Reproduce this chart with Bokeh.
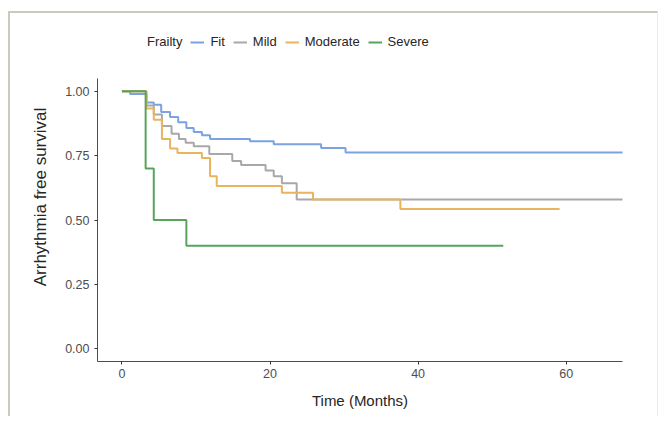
from bokeh.plotting import figure
from bokeh.models import Range1d, FixedTicker, NumeralTickFormatter, Legend, LegendItem
from bokeh.embed import file_html
from bokeh.resources import INLINE

# Kaplan-Meier step data (months, survival)
fit_t = [0, 1.1, 3.3, 4.3, 5.3, 6.5, 7.6, 8.7, 9.7, 10.8, 11.9, 17.3, 20.5, 26.9, 30.2, 67.7]
fit_s = [1.0, 0.99, 0.957, 0.948, 0.92, 0.90, 0.88, 0.858, 0.842, 0.829, 0.815, 0.806, 0.794, 0.78, 0.762, 0.762]

mild_t = [0, 3.3, 4.3, 5.4, 6.7, 7.7, 8.6, 9.7, 11.8, 14.9, 16.1, 19.4, 20.5, 21.6, 23.6, 67.7]
mild_s = [1.0, 0.945, 0.91, 0.865, 0.835, 0.815, 0.80, 0.787, 0.757, 0.729, 0.714, 0.692, 0.67, 0.643, 0.58, 0.58]

mod_t = [0, 3.3, 4.3, 5.4, 6.5, 7.5, 10.8, 11.9, 12.8, 21.6, 25.8, 37.6, 59.1]
mod_s = [1.0, 0.933, 0.89, 0.815, 0.778, 0.76, 0.741, 0.67, 0.632, 0.606, 0.58, 0.543, 0.543]

sev_t = [0, 3.2, 4.3, 8.7, 51.5]
sev_s = [1.0, 0.70, 0.50, 0.40, 0.40]

groups = ["Fit", "Mild", "Moderate", "Severe"]
legend_title = "Frailty"
colors = ["#7aa3df", "#a8a8a8", "#e8b45e", "#57a55b"]
x_ticks = [0, 20, 40, 60]
y_ticks = [0, 0.25, 0.5, 0.75, 1.0]

FONT = "Liberation Sans"

# frame extends upward to hold the legend; the y axis line is bounded to the data panel
p = figure(width=650, height=405, output_backend="svg", toolbar_location=None,
           x_range=Range1d(-3.3, 67.6), y_range=Range1d(-0.05, 1.2288),
           min_border_left=87, min_border_right=38, min_border_top=19, min_border_bottom=57)
p.styles = {"border-top": "2px solid #cbcbbd", "border-left": "2px solid #cbcbbd",
            "border-right": "1px solid #ececec", "margin-left": "8px", "margin-top": "11px"}

p.grid.visible = False
p.outline_line_color = None
p.background_fill_color = "white"
p.border_fill_color = "white"

renderers = []
for t, s, c in zip([fit_t, mild_t, mod_t, sev_t], [fit_s, mild_s, mod_s, sev_s], colors):
    r = p.step(t, s, mode="after", line_color=c, line_width=2)
    renderers.append(r)

# legend title entry (its key glyph is fully transparent)
title_r = p.line(x=fit_t[:1], y=fit_s[:1], line_alpha=0)

for ax in (p.xaxis[0], p.yaxis[0]):
    ax.axis_line_color = "#4d4d4d"
    ax.axis_line_width = 1
    ax.major_tick_line_color = "#333333"
    ax.major_tick_out = 3
    ax.major_tick_in = 0
    ax.minor_tick_line_color = None
    ax.major_label_text_font = FONT
    ax.major_label_text_font_size = "12.5px"
    ax.major_label_text_color = "#4d4d4d"
    ax.axis_label_text_font = FONT
    ax.axis_label_text_font_style = "normal"
    ax.axis_label_text_color = "#262626"

p.yaxis.bounds = (-0.05, 1.05)
p.xaxis.ticker = FixedTicker(ticks=x_ticks)
p.yaxis.ticker = FixedTicker(ticks=y_ticks)
p.yaxis.formatter = NumeralTickFormatter(format="0.00")
p.xaxis.axis_label = "Time (Months)"
p.yaxis.axis_label = "Arrhythmia free survival"
p.xaxis.axis_label_text_font_size = "15px"
p.yaxis.axis_label_text_font_size = "17px"
p.xaxis.major_label_standoff = 4
p.yaxis.major_label_standoff = 5
p.xaxis.axis_label_standoff = 11
p.yaxis.axis_label_standoff = 12

items = [LegendItem(label=legend_title, renderers=[title_r])]
items += [LegendItem(label=g, renderers=[r]) for g, r in zip(groups, renderers)]
legend = Legend(items=items, orientation="horizontal", location=(30, 312))
legend.background_fill_alpha = 0
legend.border_line_color = None
legend.padding = 0
legend.margin = 0
legend.spacing = 8
legend.label_standoff = 6
legend.glyph_width = 14
legend.glyph_height = 12
legend.label_height = 12
legend.label_width = 0
legend.label_text_font = FONT
legend.label_text_font_size = "13px"
legend.label_text_color = "#262626"
legend.click_policy = "none"
p.add_layout(legend, "center")

open("out.html", "w").write(file_html(p, INLINE))
